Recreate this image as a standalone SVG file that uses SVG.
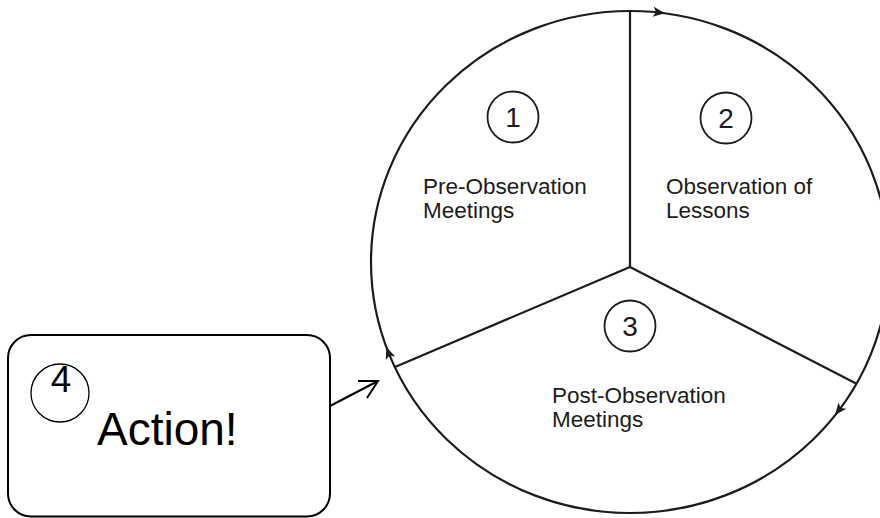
<svg xmlns="http://www.w3.org/2000/svg" width="880" height="518" viewBox="0 0 880 518">
  <style>
    .ln { fill: none; stroke: #1c1c1c; stroke-width: 2.2; }
    .num { fill: none; stroke: #1c1c1c; stroke-width: 1.8; }
    .lbl { font-family: "Liberation Sans", Arial, sans-serif; font-size: 22.5px; fill: #1c1c1c; }
    .dig { font-family: "Liberation Sans", Arial, sans-serif; font-size: 28px; fill: #1c1c1c; text-anchor: middle; }
    .head { fill: #1c1c1c; stroke: none; }
  </style>
  <defs>
    <path id="ah" d="M0,0 L-12,-5 L-9,0 L-12,5 Z"/>
  </defs>
  <rect width="880" height="518" fill="#ffffff"/>

  <g id="cycle">
    <ellipse class="ln" cx="630" cy="262" rx="259" ry="251"/>
    <line class="ln" x1="630" y1="12" x2="630" y2="267"/>
    <line class="ln" x1="630" y1="267" x2="395" y2="367"/>
    <line class="ln" x1="630" y1="267" x2="857" y2="384"/>
    <use href="#ah" class="head" transform="translate(665,13.3) rotate(7.5)"/>
    <use href="#ah" class="head" transform="translate(835,415) rotate(128.4)"/>
    <use href="#ah" class="head" transform="translate(386.3,347) rotate(-110.4)"/>
  </g>

  <g id="stage1">
    <circle class="num" cx="513" cy="117" r="25.5"/>
    <text class="dig" x="513" y="127">1</text>
    <text class="lbl" x="423" y="194">Pre-Observation</text>
    <text class="lbl" x="423" y="218">Meetings</text>
  </g>

  <g id="stage2">
    <circle class="num" cx="726" cy="118" r="25.5"/>
    <text class="dig" x="726" y="128">2</text>
    <text class="lbl" x="666" y="194">Observation of</text>
    <text class="lbl" x="666" y="218">Lessons</text>
  </g>

  <g id="stage3">
    <circle class="num" cx="630" cy="326" r="25.5"/>
    <text class="dig" x="630" y="335.5">3</text>
    <text class="lbl" x="552" y="403">Post-Observation</text>
    <text class="lbl" x="552" y="427">Meetings</text>
  </g>

  <g id="action">
    <rect x="8" y="335" width="322" height="181.5" rx="23" ry="23" fill="#ffffff" stroke="#000" stroke-width="2"/>
    <circle cx="60" cy="393" r="29" fill="none" stroke="#000" stroke-width="1.3"/>
    <text x="61" y="392" font-family="Liberation Sans, Arial, sans-serif" font-size="37" text-anchor="middle" fill="#000">4</text>
    <text x="97" y="445" font-family="Liberation Sans, Arial, sans-serif" font-size="46" fill="#000">Action!</text>
  </g>

  <g id="connectors">
    <path d="M330,406 L378,381 M358,381 L378,381 L367,398" fill="none" stroke="#000" stroke-width="2" stroke-linejoin="miter"/>
  </g>
</svg>
